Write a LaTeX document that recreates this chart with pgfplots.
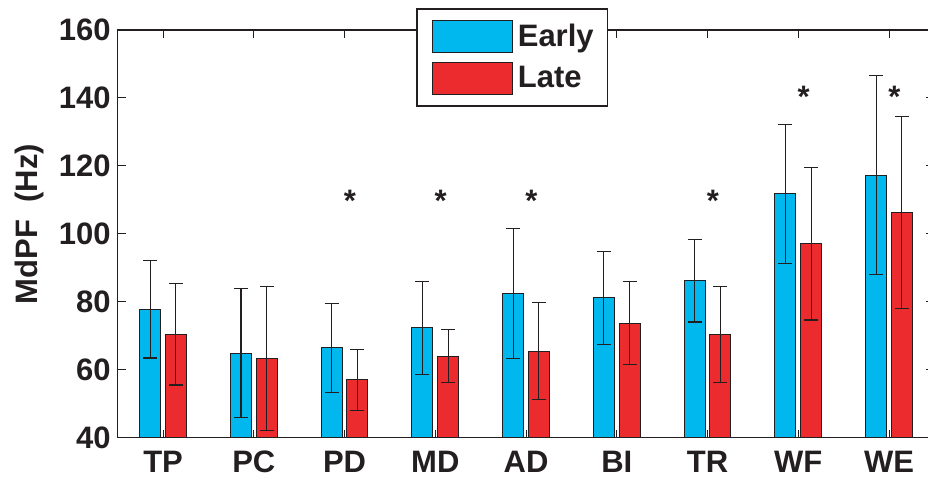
\documentclass[border=0pt]{standalone}
\usepackage{pgfplots}
\pgfplotsset{compat=1.18}
\usepackage{fontspec}
\setmainfont{Liberation Sans}
\definecolor{early}{RGB}{0,183,238}
\definecolor{late}{RGB}{236,43,47}
\definecolor{axcol}{RGB}{35,31,32}
\newcommand{\lf}{\fontsize{15.5}{18}\selectfont\bfseries}
\pgfplotsset{legpatch/.style={legend image code/.code={\path (-3pt,0pt); \draw[##1, line width=0.5pt] (0pt,-7.8pt) rectangle (40pt,8.2pt);}}}
\begin{document}
\begin{tikzpicture}
\begin{axis}[
  name=ax, scale only axis, width=408.35pt, height=203.85pt,
  xmin=0.5, xmax=9.5, ymin=40, ymax=160,
  xtick={1,...,9}, xticklabels={TP,PC,PD,MD,AD,BI,TR,WF,WE},
  ytick={40,60,...,160},
  tick align=inside, major tick length=4pt,
  tick style={axcol, line width=0.5pt},
  axis line style={axcol, line width=0.8pt},
  /pgf/number format/assume math mode=true,
  tick label style={font=\lf, text=axcol},
  xticklabel style={yshift=-3pt},
  ylabel={MdPF\ \ (Hz)},
  ylabel style={font=\lf, text=axcol, at={(axis description cs:-0.1086,0.524)}, anchor=center},
  legend style={at={(0.3653,1.054)}, anchor=north west, draw=axcol, line width=0.8pt, fill=white,
    font=\lf, inner xsep=4.5pt, inner ysep=5.5pt, row sep=4.5pt,
    nodes={inner xsep=2.5pt, inner ysep=1pt, text=axcol}},
  legend cell align=left,
]
\addplot[ybar, bar width=10.5pt, bar shift=0pt, fill=early, draw=axcol, line width=0.5pt, legpatch,
  error bars/.cd, y dir=both, y explicit,
  error bar style={axcol, line width=0.55pt},
  error mark options={rotate=90, mark size=3.5pt, line width=0.55pt, axcol}]
  coordinates {
  (0.8584,77.8) +- (0,14.35)
  (1.8584,64.9) +- (0,18.9)
  (2.8584,66.5) +- (0,13.1)
  (3.8584,72.4) +- (0,13.7)
  (4.8584,82.4) +- (0,19.05)
  (5.8584,81.2) +- (0,13.65)
  (6.8584,86.2) +- (0,12.15)
  (7.8584,111.8) +- (0,20.5)
  (8.8584,117.3) +- (0,29.2)
  };
\addlegendentry{Early}
\addplot[ybar, bar width=10.5pt, bar shift=0pt, fill=late, draw=axcol, line width=0.5pt, legpatch,
  error bars/.cd, y dir=both, y explicit,
  error bar style={axcol, line width=0.55pt},
  error mark options={rotate=90, mark size=3.5pt, line width=0.55pt, axcol}]
  coordinates {
  (1.1416,70.4) +- (0,14.9)
  (2.1416,63.3) +- (0,21.1)
  (3.1416,57.0) +- (0,8.95)
  (4.1416,64.0) +- (0,7.85)
  (5.1416,65.5) +- (0,14.25)
  (6.1416,73.7) +- (0,12.2)
  (7.1416,70.4) +- (0,14.05)
  (8.1416,97.1) +- (0,22.45)
  (9.1416,106.3) +- (0,28.3)
  };
\addlegendentry{Late}
\addplot[forget plot, only marks, mark=none, nodes near coords={*},
  every node near coord/.style={font=\lf, text=axcol, anchor=center, inner sep=0pt}]
  coordinates {(3.06,109.6) (4.06,109.6) (5.06,109.6) (7.06,109.6) (8.06,140.3) (9.06,140.3)};
\end{axis}
\pgfresetboundingbox
\path[use as bounding box] ([xshift=-58.85pt,yshift=-22.15pt]ax.south west) rectangle ([xshift=405.15pt,yshift=218.85pt]ax.south west);
\end{tikzpicture}
\end{document}
